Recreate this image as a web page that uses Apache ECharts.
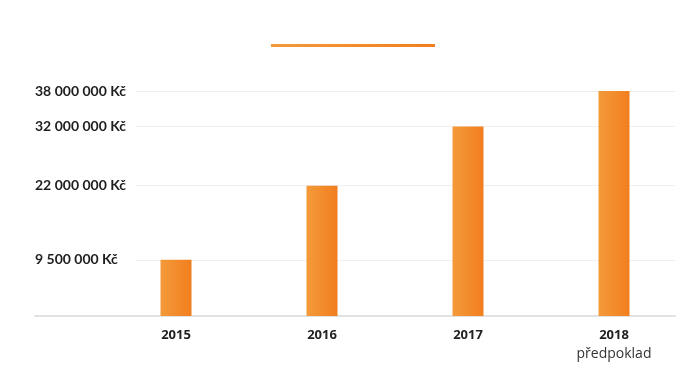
<!DOCTYPE html>
<html><head><meta charset="utf-8">
<script src="https://cdn.jsdelivr.net/npm/echarts@6/dist/echarts.min.js"></script>
<style>html,body{margin:0;padding:0;background:#fff}#c{width:700px;height:387px}</style>
</head><body><div id="c"></div>
<script>
const years = ['2015', '2016', '2017', '2018'];
const yearNotes = ['', '', '', 'předpoklad'];
const revenue = [9500000, 22000000, 32000000, 38000000];
const tickValues = [9500000, 22000000, 32000000, 38000000];
const tickLabels = ['9 500 000 Kč', '22 000 000 Kč', '32 000 000 Kč', '38 000 000 Kč'];

const FONT = 'Open Sans';
const chart = echarts.init(document.getElementById('c'), null, {renderer: 'canvas'});
const yMax = 38000000;
chart.setOption({
  animation: false,
  graphic: [{
    type: 'rect', shape: {x: 271, y: 44, width: 164, height: 3},
    style: {fill: new echarts.graphic.LinearGradient(0, 0, 1, 0, [{offset: 0, color: '#F39A3A'}, {offset: 1, color: '#F27E1E'}])}
  }],
  grid: [
    {left: 103, right: 13, top: 91, bottom: 71},
    {left: 35, right: 25, top: 91, bottom: 71},
    {left: 136, right: 25, top: 91, bottom: 71}
  ],
  xAxis: [
    {type: 'category', gridIndex: 0, data: years,
     axisLine: {show: false}, axisTick: {show: false},
     axisLabel: {margin: 10, formatter: function (v, i) {
        return yearNotes[i] ? '{y|' + v + '}\n{n|' + yearNotes[i] + '}' : '{y|' + v + '}';
      },
      rich: {y: {fontFamily: FONT, fontWeight: 'bold', fontSize: 13, color: '#222', lineHeight: 18},
             n: {fontFamily: FONT, fontSize: 14, color: '#333', lineHeight: 20}}}},
    {type: 'value', gridIndex: 1, min: 0, max: 1, show: true,
     axisLine: {show: true, lineStyle: {color: '#e2e2e2', width: 2}}, axisTick: {show: false},
     axisLabel: {show: false}, splitLine: {show: false}},
    {type: 'value', gridIndex: 2, min: 0, max: 1, show: false}
  ],
  yAxis: [
    {type: 'value', gridIndex: 0, min: 0, max: yMax, show: false, splitLine: {show: false}},
    {type: 'value', gridIndex: 1, min: 0, max: yMax,
     axisLine: {show: false}, axisTick: {show: false, customValues: tickValues},
     splitLine: {show: false},
     axisLabel: {inside: true, margin: 0, customValues: tickValues, padding: [3, 0, 0, 0],
       formatter: function (v) { const i = tickValues.indexOf(v); return i >= 0 ? tickLabels[i] : ''; },
       fontFamily: 'Lato', fontWeight: 'bold', fontSize: 14, color: '#1e1e1e'}},
    {type: 'value', gridIndex: 2, min: 0, max: yMax,
     axisLine: {show: false}, axisLabel: {show: false},
     axisTick: {show: false, customValues: tickValues},
     splitLine: {show: true, lineStyle: {color: '#efefef', width: 1}}}
  ],
  series: [{
    type: 'bar', xAxisIndex: 0, yAxisIndex: 0, data: revenue, barWidth: 31,
    itemStyle: {color: new echarts.graphic.LinearGradient(0, 0, 1, 0, [{offset: 0, color: '#F39A3A'}, {offset: 1, color: '#F27E1E'}])}
  }]
});
</script></body></html>
